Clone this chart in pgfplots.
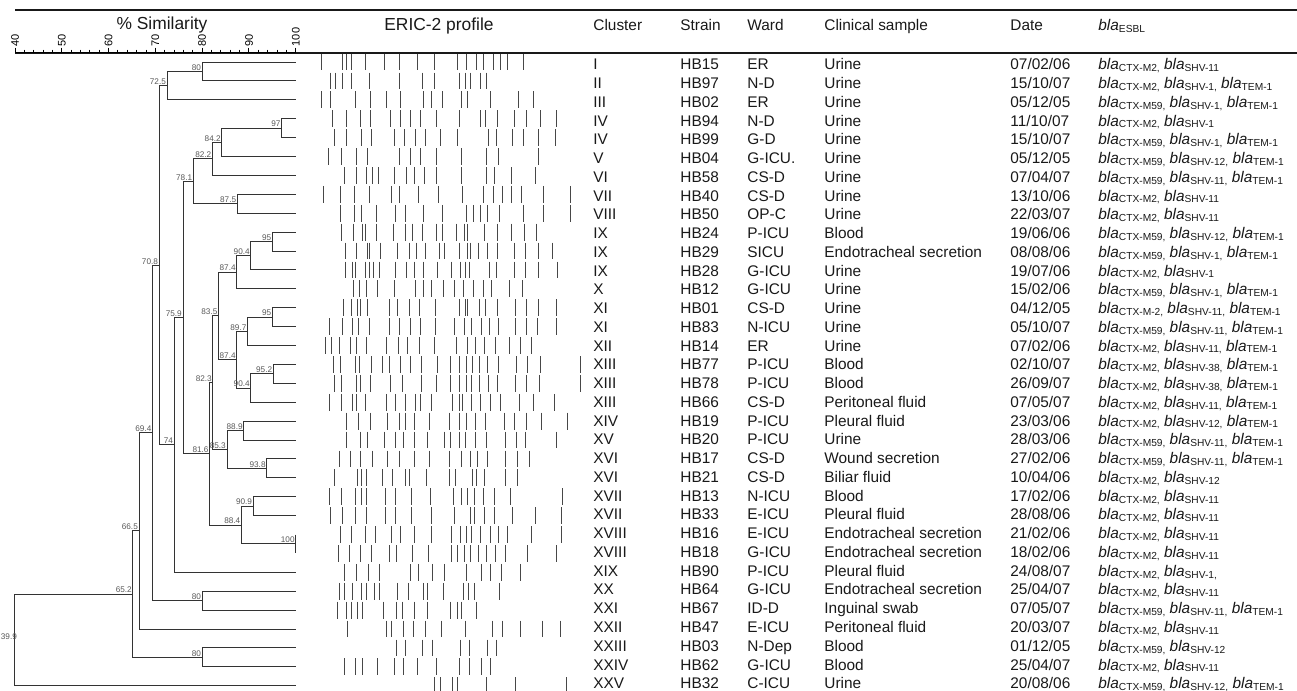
\documentclass[border=0pt]{standalone}
\usepackage{pgfplots}
\pgfplotsset{compat=1.18}
\usepackage{fontspec}
\setmainfont{Liberation Sans}
\newcommand\sub[1]{\raisebox{-0.9pt}{\fontsize{5.1pt}{6pt}\selectfont #1}}
\newcommand\B[1]{\textit{bla}\sub{#1}}
\newcommand\row[7]{%
  \node[tx] at (axis cs:593,#1) {#2};
  \node[tx] at (axis cs:680,#1) {#3};
  \node[tx] at (axis cs:747,#1) {#4};
  \node[tx] at (axis cs:824,#1) {#5};
  \node[tx] at (axis cs:1010,#1) {#6};
  \node[tx] at (axis cs:1098,#1) {#7};}
\newcommand\lab[2]{\node[dl] at (axis cs:#1,#2) {#1};}
\tikzset{
 tx/.style={anchor=base west, inner sep=0pt, yshift=-2.76pt, font=\fontsize{7.7pt}{9pt}\selectfont, text=black!90},
 hd/.style={anchor=base west, inner sep=0pt, font=\fontsize{7.7pt}{9pt}\selectfont, text=black!90},
 dl/.style={anchor=south east, inner sep=0.4pt, font=\fontsize{4.1pt}{5pt}\selectfont, text=black!65},
 dg/.style={black!80, line width=0.5pt, mark=none},
 bd/.style={only marks, mark=|, mark size=4.2pt, mark options={line width=0.45pt, draw=black!72}},
}
\begin{document}
\begin{tikzpicture}
\useasboundingbox (0,0) rectangle (648.5pt,345.5pt);
\draw[line width=1pt, black!90] (7.5pt,340.5pt) -- (648.5pt,340.5pt);
\draw[line width=1pt, black!90] (7.5pt,319.1pt) -- (648.5pt,319.1pt);
\node[anchor=base, inner sep=0pt, font=\fontsize{8.7pt}{10pt}\selectfont, text=black!90] at (81pt,330.6pt) {\% Similarity};
\node[anchor=base, inner sep=0pt, font=\fontsize{8.7pt}{10pt}\selectfont, text=black!90] at (219.5pt,330.4pt) {ERIC-2 profile};
\node[hd] at (296.5pt,330pt) {Cluster};
\node[hd] at (340pt,330pt) {Strain};
\node[hd] at (373.5pt,330pt) {Ward};
\node[hd] at (412pt,330pt) {Clinical sample};
\node[hd] at (505pt,330pt) {Date};
\node[hd] at (549pt,330pt) {\B{ESBL}};

% ---------------- dendrogram ----------------
\begin{axis}[at={(7.5pt,319.225pt)}, anchor=north west, scale only axis,
  width=140.4pt, height=321.3pt, xmin=40, xmax=100, ymin=0.5, ymax=34.5,
  y dir=reverse, clip=false, axis x line*=top, axis y line=none, ytick=\empty,
  xtick={40,50,...,100}, minor x tick num=4, tick align=outside,
  major tick length=2.5pt, minor tick length=1.5pt,
  tick style={black, line width=0.5pt},
  xticklabel style={rotate=90, anchor=west, inner sep=0.5pt, font=\fontsize{5.5pt}{6pt}\selectfont},
  /pgf/number format/assume math mode=true]
\addplot[dg] coordinates {(100,1)(80,1)(80,2)(100,2)};
\addplot[dg] coordinates {(80,1.5)(72.5,1.5)(72.5,3)(100,3)};
\addplot[dg] coordinates {(100,4)(97,4)(97,5)(100,5)};
\addplot[dg] coordinates {(97,4.5)(84.2,4.5)(84.2,6)(100,6)};
\addplot[dg] coordinates {(84.2,5.25)(82.2,5.25)(82.2,7)(100,7)};
\addplot[dg] coordinates {(100,8)(87.5,8)(87.5,9)(100,9)};
\addplot[dg] coordinates {(82.2,6.125)(78.1,6.125)(78.1,8.5)(87.5,8.5)};
\addplot[dg] coordinates {(100,10)(95,10)(95,11)(100,11)};
\addplot[dg] coordinates {(95,10.5)(90.4,10.5)(90.4,12)(100,12)};
\addplot[dg] coordinates {(90.4,11.25)(87.4,11.25)(87.4,13)(100,13)};
\addplot[dg] coordinates {(100,14)(95,14)(95,15)(100,15)};
\addplot[dg] coordinates {(95,14.5)(89.7,14.5)(89.7,16)(100,16)};
\addplot[dg] coordinates {(100,17)(95.2,17)(95.2,18)(100,18)};
\addplot[dg] coordinates {(95.2,17.5)(90.4,17.5)(90.4,19)(100,19)};
\addplot[dg] coordinates {(89.7,15.25)(87.4,15.25)(87.4,18.25)(90.4,18.25)};
\addplot[dg] coordinates {(87.4,12.125)(83.5,12.125)(83.5,16.75)(87.4,16.75)};
\addplot[dg] coordinates {(100,20)(88.9,20)(88.9,21)(100,21)};
\addplot[dg] coordinates {(100,22)(93.8,22)(93.8,23)(100,23)};
\addplot[dg] coordinates {(88.9,20.5)(85.3,20.5)(85.3,22.5)(93.8,22.5)};
\addplot[dg] coordinates {(83.5,14.4375)(82.3,14.4375)(82.3,21.5)(85.3,21.5)};
\addplot[dg] coordinates {(100,24)(90.9,24)(90.9,25)(100,25)};
\addplot[dg] coordinates {(100,26)(100,27)};
\addplot[dg] coordinates {(90.9,24.5)(88.4,24.5)(88.4,26.5)(100,26.5)};
\addplot[dg] coordinates {(82.3,17.969)(81.6,17.969)(81.6,25.5)(88.4,25.5)};
\addplot[dg] coordinates {(78.1,7.3125)(75.9,7.3125)(75.9,21.734)(81.6,21.734)};
\addplot[dg] coordinates {(75.9,14.523)(74,14.523)(74,28)(100,28)};
\addplot[dg] coordinates {(72.5,2.25)(70.8,2.25)(70.8,21.262)(74,21.262)};
\addplot[dg] coordinates {(100,29)(80,29)(80,30)(100,30)};
\addplot[dg] coordinates {(70.8,11.756)(69.4,11.756)(69.4,29.5)(80,29.5)};
\addplot[dg] coordinates {(69.4,20.628)(66.5,20.628)(66.5,31)(100,31)};
\addplot[dg] coordinates {(100,32)(80,32)(80,33)(100,33)};
\addplot[dg] coordinates {(66.5,25.814)(65.2,25.814)(65.2,32.5)(80,32.5)};
\addplot[dg] coordinates {(65.2,29.157)(39.9,29.157)(39.9,34)(100,34)};
\lab{80}{1.5}\lab{72.5}{2.25}\lab{97}{4.5}\lab{84.2}{5.25}\lab{82.2}{6.125}
\lab{87.5}{8.5}\lab{78.1}{7.3125}\lab{95}{10.5}\lab{90.4}{11.25}\lab{87.4}{12.125}
\lab{95}{14.5}\lab{89.7}{15.25}\lab{95.2}{17.5}\lab{90.4}{18.25}\lab{87.4}{16.75}
\lab{83.5}{14.4375}\lab{88.9}{20.5}\lab{93.8}{22.5}\lab{85.3}{21.5}\lab{82.3}{17.969}
\lab{90.9}{24.5}\lab{100}{26.5}\lab{88.4}{25.5}\lab{81.6}{21.734}\lab{75.9}{14.523}
\lab{74}{21.262}\lab{70.8}{11.756}\lab{80}{29.5}\lab{69.4}{20.628}\lab{66.5}{25.814}
\lab{80}{32.5}\lab{65.2}{29.157}
\node[dl, anchor=south west, inner sep=0pt] at (axis cs:36.9,31.578) {39.9};
\end{axis}

% ---------------- ERIC-2 bands ----------------
\begin{axis}[at={(155pt,319.225pt)}, anchor=north west, scale only axis,
  width=140pt, height=321.3pt, xmin=0, xmax=840, ymin=0.5, ymax=34.5,
  y dir=reverse, hide axis, clip=false]
\addplot[bd] coordinates {(35,1)(97,1)(110,1)(124,1)(165,1)(222,1)(268,1)(322,1)(372,1)(443,1)(470,1)(500,1)(520,1)(550,1)(570,1)(593,1)(640,1)};
\addplot[bd] coordinates {(62,2)(77,2)(97,2)(124,2)(177,2)(268,2)(337,2)(372,2)(447,2)(465,2)(480,2)(512,2)(530,2)};
\addplot[bd] coordinates {(35,3)(60,3)(135,3)(180,3)(230,3)(270,3)(340,3)(365,3)(397,3)(455,3)(473,3)(540,3)(625,3)(670,3)};
\addplot[bd] coordinates {(68,4)(108,4)(152,4)(180,4)(242,4)(272,4)(300,4)(330,4)(378,4)(447,4)(512,4)(525,4)(562,4)(612,4)(648,4)(690,4)(740,4)};
\addplot[bd] coordinates {(72,5)(108,5)(155,5)(185,5)(252,5)(282,5)(317,5)(345,5)(390,5)(443,5)(535,5)(560,5)(608,5)(640,5)(685,5)(735,5)};
\addplot[bd] coordinates {(55,6)(93,6)(140,6)(172,6)(268,6)(302,6)(330,6)(378,6)(455,6)(528,6)(565,6)(685,6)};
\addplot[bd] coordinates {(102,7)(140,7)(168,7)(187,7)(205,7)(252,7)(290,7)(313,7)(343,7)(380,7)(455,7)(528,7)(553,7)(605,7)(675,7)};
\addplot[bd] coordinates {(40,8)(90,8)(133,8)(177,8)(245,8)(268,8)(325,8)(385,8)(457,8)(520,8)(550,8)(577,8)(603,8)(635,8)(700,8)(780,8)};
\addplot[bd] coordinates {(90,9)(132,9)(153,9)(198,9)(255,9)(287,9)(340,9)(398,9)(468,9)(490,9)(512,9)(533,9)(567,9)(640,9)(700,9)(782,9)};
\addplot[bd] coordinates {(93,10)(130,10)(158,10)(167,10)(198,10)(250,10)(287,10)(308,10)(337,10)(380,10)(398,10)(440,10)(462,10)(473,10)(522,10)(563,10)(605,10)(642,10)(678,10)};
\addplot[bd] coordinates {(107,11)(140,11)(172,11)(178,11)(212,11)(262,11)(298,11)(318,11)(347,11)(387,11)(402,11)(448,11)(472,11)(482,11)(505,11)(532,11)(562,11)(612,11)(645,11)(685,11)(728,11)};
\addplot[bd] coordinates {(107,12)(127,12)(137,12)(165,12)(178,12)(190,12)(208,12)(255,12)(288,12)(312,12)(340,12)(382,12)(425,12)(452,12)(467,12)(478,12)(537,12)(560,12)(612,12)(647,12)(685,12)(742,12)};
\addplot[bd] coordinates {(130,13)(148,13)(168,13)(202,13)(253,13)(315,13)(340,13)(365,13)(400,13)(433,13)(460,13)(490,13)(520,13)(543,13)(597,13)(638,13)};
\addplot[bd] coordinates {(100,14)(123,14)(143,14)(152,14)(173,14)(237,14)(262,14)(297,14)(328,14)(377,14)(447,14)(467,14)(473,14)(507,14)(527,14)(563,14)(615,14)(648,14)(685,14)(738,14)};
\addplot[bd] coordinates {(58,15)(98,15)(128,15)(145,15)(177,15)(238,15)(267,15)(302,15)(330,15)(375,15)(432,15)(463,15)(483,15)(513,15)(537,15)(565,15)(615,15)(648,15)(683,15)(740,15)};
\addplot[bd] coordinates {(45,16)(63,16)(87,16)(122,16)(140,16)(170,16)(228,16)(265,16)(293,16)(327,16)(372,16)(438,16)(472,16)(495,16)(523,16)(555,16)(598,16)(630,16)(663,16)};
\addplot[bd] coordinates {(70,17)(92,17)(137,17)(147,17)(183,17)(218,17)(238,17)(272,17)(302,17)(335,17)(383,17)(420,17)(448,17)(470,17)(487,17)(507,17)(532,17)(565,17)(618,17)(652,17)(690,17)(810,17)};
\addplot[bd] coordinates {(72,18)(93,18)(140,18)(152,18)(180,18)(240,18)(278,18)(333,18)(380,18)(420,18)(448,18)(470,18)(483,18)(508,18)(535,18)(563,18)(615,18)(650,18)(688,18)(810,18)};
\addplot[bd] coordinates {(57,19)(95,19)(128,19)(140,19)(167,19)(228,19)(257,19)(287,19)(315,19)(330,19)(363,19)(428,19)(448,19)(458,19)(485,19)(510,19)(542,19)(572,19)(628,19)(670,19)(733,19)};
\addplot[bd] coordinates {(108,20)(145,20)(180,20)(232,20)(267,20)(287,20)(312,20)(357,20)(418,20)(448,20)(470,20)(497,20)(525,20)(582,20)(612,20)(648,20)(695,20)(773,20)};
\addplot[bd] coordinates {(108,21)(150,21)(173,21)(222,21)(257,21)(280,21)(312,21)(352,21)(403,21)(420,21)(448,21)(467,21)(497,21)(530,21)(585,21)(618,21)(647,21)(738,21)};
\addplot[bd] coordinates {(87,22)(120,22)(150,22)(187,22)(233,22)(268,22)(313,22)(357,22)(418,22)(453,22)(480,22)(502,22)(533,22)(587,22)(622,22)(657,22)};
\addplot[bd] coordinates {(72,23)(142,23)(155,23)(170,23)(218,23)(248,23)(287,23)(298,23)(350,23)(418,23)(437,23)(487,23)(498,23)(522,23)(585,23)(623,23)};
\addplot[bd] coordinates {(57,24)(95,24)(137,24)(155,24)(168,24)(227,24)(255,24)(303,24)(362,24)(430,24)(453,24)(473,24)(492,24)(520,24)(552,24)(600,24)(757,24)};
\addplot[bd] coordinates {(62,25)(97,25)(135,25)(170,25)(225,25)(255,25)(303,25)(363,25)(433,25)(480,25)(493,25)(523,25)(552,25)(607,25)(675,25)(755,25)};
\addplot[bd] coordinates {(92,26)(125,26)(165,26)(195,26)(245,26)(270,26)(313,26)(365,26)(425,26)(452,26)(470,26)(485,26)(512,26)(542,26)(565,26)(593,26)(663,26)(753,26)};
\addplot[bd] coordinates {(85,27)(117,27)(152,27)(185,27)(237,27)(260,27)(307,27)(355,27)(425,27)(443,27)(463,27)(482,27)(505,27)(530,27)(557,27)(585,27)(653,27)(740,27)};
\addplot[bd] coordinates {(102,28)(140,28)(175,28)(208,28)(302,28)(325,28)(368,28)(403,28)(470,28)(515,28)(540,28)(573,28)(630,28)};
\addplot[bd] coordinates {(88,29)(103,29)(128,29)(155,29)(170,29)(193,29)(208,29)(263,29)(295,29)(340,29)(353,29)(400,29)(460,29)(475,29)(493,29)(567,29)};
\addplot[bd] coordinates {(82,30)(110,30)(123,30)(143,30)(157,30)(220,30)(258,30)(278,30)(312,30)(353,30)(420,30)(442,30)(453,30)(500,30)};
\addplot[bd] coordinates {(113,31)(228,31)(243,31)(280,31)(310,31)(345,31)(393,31)(467,31)(547,31)(578,31)(630,31)(697,31)(752,31)};
\addplot[bd] coordinates {(258,32)(287,32)(338,32)(368,32)(450,32)(478,32)(532,32)(560,32)};
\addplot[bd] coordinates {(103,33)(137,33)(157,33)(202,33)(253,33)(280,33)(323,33)(380,33)(447,33)(477,33)(515,33)(540,33)};
\addplot[bd] coordinates {(373,34)(390,34)(427,34)(443,34)(530,34)(615,34)(768,34)};
\end{axis}

% ---------------- table text ----------------
\begin{axis}[at={(0pt,318.04pt)}, anchor=north west, scale only axis,
  width=648.5pt, height=318.85pt, xmin=0, xmax=1297, ymin=0.5, ymax=34.5,
  y dir=reverse, hide axis, clip=false]
\row{1}{I}{HB15}{ER}{Urine}{07/02/06}{\B{CTX-M2,} \B{SHV-11}}
\row{2}{II}{HB97}{N-D}{Urine}{15/10/07}{\B{CTX-M2,} \B{SHV-1,} \B{TEM-1}}
\row{3}{III}{HB02}{ER}{Urine}{05/12/05}{\B{CTX-M59,} \B{SHV-1,} \B{TEM-1}}
\row{4}{IV}{HB94}{N-D}{Urine}{11/10/07}{\B{CTX-M2,} \B{SHV-1}}
\row{5}{IV}{HB99}{G-D}{Urine}{15/10/07}{\B{CTX-M59,} \B{SHV-1,} \B{TEM-1}}
\row{6}{V}{HB04}{G-ICU.}{Urine}{05/12/05}{\B{CTX-M59,} \B{SHV-12,} \B{TEM-1}}
\row{7}{VI}{HB58}{CS-D}{Urine}{07/04/07}{\B{CTX-M59,} \B{SHV-11,} \B{TEM-1}}
\row{8}{VII}{HB40}{CS-D}{Urine}{13/10/06}{\B{CTX-M2,} \B{SHV-11}}
\row{9}{VIII}{HB50}{OP-C}{Urine}{22/03/07}{\B{CTX-M2,} \B{SHV-11}}
\row{10}{IX}{HB24}{P-ICU}{Blood}{19/06/06}{\B{CTX-M59,} \B{SHV-12,} \B{TEM-1}}
\row{11}{IX}{HB29}{SICU}{Endotracheal secretion}{08/08/06}{\B{CTX-M59,} \B{SHV-1,} \B{TEM-1}}
\row{12}{IX}{HB28}{G-ICU}{Urine}{19/07/06}{\B{CTX-M2,} \B{SHV-1}}
\row{13}{X}{HB12}{G-ICU}{Urine}{15/02/06}{\B{CTX-M59,} \B{SHV-1,} \B{TEM-1}}
\row{14}{XI}{HB01}{CS-D}{Urine}{04/12/05}{\B{CTX-M-2,} \B{SHV-11,} \B{TEM-1}}
\row{15}{XI}{HB83}{N-ICU}{Urine}{05/10/07}{\B{CTX-M59,} \B{SHV-11,} \B{TEM-1}}
\row{16}{XII}{HB14}{ER}{Urine}{07/02/06}{\B{CTX-M2,} \B{SHV-11,} \B{TEM-1}}
\row{17}{XIII}{HB77}{P-ICU}{Blood}{02/10/07}{\B{CTX-M2,} \B{SHV-38,} \B{TEM-1}}
\row{18}{XIII}{HB78}{P-ICU}{Blood}{26/09/07}{\B{CTX-M2,} \B{SHV-38,} \B{TEM-1}}
\row{19}{XIII}{HB66}{CS-D}{Peritoneal fluid}{07/05/07}{\B{CTX-M2,} \B{SHV-11,} \B{TEM-1}}
\row{20}{XIV}{HB19}{P-ICU}{Pleural fluid}{23/03/06}{\B{CTX-M2,} \B{SHV-12,} \B{TEM-1}}
\row{21}{XV}{HB20}{P-ICU}{Urine}{28/03/06}{\B{CTX-M59,} \B{SHV-11,} \B{TEM-1}}
\row{22}{XVI}{HB17}{CS-D}{Wound secretion}{27/02/06}{\B{CTX-M59,} \B{SHV-11,} \B{TEM-1}}
\row{23}{XVI}{HB21}{CS-D}{Biliar fluid}{10/04/06}{\B{CTX-M2,} \B{SHV-12}}
\row{24}{XVII}{HB13}{N-ICU}{Blood}{17/02/06}{\B{CTX-M2,} \B{SHV-11}}
\row{25}{XVII}{HB33}{E-ICU}{Pleural fluid}{28/08/06}{\B{CTX-M2,} \B{SHV-11}}
\row{26}{XVIII}{HB16}{E-ICU}{Endotracheal secretion}{21/02/06}{\B{CTX-M2,} \B{SHV-11}}
\row{27}{XVIII}{HB18}{G-ICU}{Endotracheal secretion}{18/02/06}{\B{CTX-M2,} \B{SHV-11}}
\row{28}{XIX}{HB90}{P-ICU}{Pleural fluid}{24/08/07}{\B{CTX-M2,} \B{SHV-1,}}
\row{29}{XX}{HB64}{G-ICU}{Endotracheal secretion}{25/04/07}{\B{CTX-M2,} \B{SHV-11}}
\row{30}{XXI}{HB67}{ID-D}{Inguinal swab}{07/05/07}{\B{CTX-M59,} \B{SHV-11,} \B{TEM-1}}
\row{31}{XXII}{HB47}{E-ICU}{Peritoneal fluid}{20/03/07}{\B{CTX-M2,} \B{SHV-11}}
\row{32}{XXIII}{HB03}{N-Dep}{Blood}{01/12/05}{\B{CTX-M59,} \B{SHV-12}}
\row{33}{XXIV}{HB62}{G-ICU}{Blood}{25/04/07}{\B{CTX-M2,} \B{SHV-11}}
\row{34}{XXV}{HB32}{C-ICU}{Urine}{20/08/06}{\B{CTX-M59,} \B{SHV-12,} \B{TEM-1}}
\end{axis}
\end{tikzpicture}
\end{document}
